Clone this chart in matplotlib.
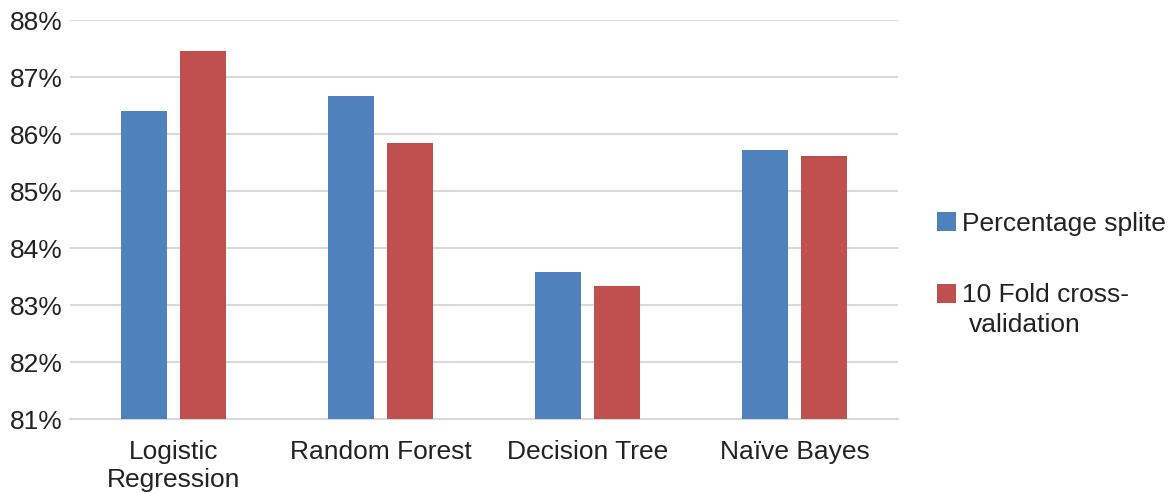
import matplotlib
matplotlib.use("Agg")
import matplotlib.pyplot as plt
import numpy as np
from matplotlib.patches import Rectangle
from matplotlib.ticker import FuncFormatter

plt.rcParams['font.family'] = ['Liberation Sans', 'DejaVu Sans']

# Classifier accuracy (%) for two evaluation schemes
categories = ["Logistic\nRegression", "Random Forest", "Decision Tree", "Naïve Bayes"]
percentage_split = [86.41, 86.67, 83.58, 85.72]
ten_fold_cv = [87.46, 85.84, 83.33, 85.61]
series_labels = ["Percentage splite", "10 Fold cross-", "validation"]
y_ticks = [81, 82, 83, 84, 85, 86, 87, 88]

blue = "#4F81BD"
red = "#C0504D"
grid_col = "#D9D9D9"
text_col = "#222222"
W, H = 1172, 493

fig = plt.figure(figsize=(W / 100, H / 100), dpi=100)
ax = fig.add_axes([0.0597, 0.150, 0.7065, 0.809])

x = np.arange(len(categories))
w = 0.222
off = 0.1425
ax.bar(x - off, percentage_split, width=w, color=blue, zorder=3)
ax.bar(x + off, ten_fold_cv, width=w, color=red, zorder=3)

ax.set_xlim(-0.5, len(categories) - 0.5)
ax.set_ylim(y_ticks[0], y_ticks[-1])
ax.set_yticks(y_ticks)
ax.yaxis.set_major_formatter(FuncFormatter(lambda v, p: f"{v:.0f}%"))
ax.set_xticks(x)
ax.set_xticklabels(categories, linespacing=1.2)

ax.grid(axis='y', color=grid_col, linewidth=1.5, zorder=0)
ax.set_axisbelow(True)
for s in ['top', 'right', 'left']:
    ax.spines[s].set_visible(False)
ax.spines['bottom'].set_color(grid_col)
ax.spines['bottom'].set_linewidth(1.5)
ax.tick_params(axis='both', length=0, labelsize=19, colors=text_col)
ax.tick_params(axis='y', pad=5)
ax.tick_params(axis='x', pad=15)

# Legend: colour squares with labels, the second label wrapping onto two lines
def px(xp, yp):
    return xp / W, 1 - yp / H

sq = 19
for (y0, col) in [(212, blue), (284, red)]:
    fx, fy = px(937, y0 + sq)
    fig.patches.append(Rectangle((fx, fy), sq / W, sq / H, transform=fig.transFigure,
                                 facecolor=col, edgecolor='none'))
for (xp, yp, txt) in [(962, 221, series_labels[0]), (962, 293, series_labels[1]),
                      (969, 322, series_labels[2])]:
    fx, fy = px(xp, yp)
    fig.text(fx, fy, txt, fontsize=19, color=text_col, ha='left', va='center_baseline')

fig.savefig("out.png", dpi=100, facecolor='white')
